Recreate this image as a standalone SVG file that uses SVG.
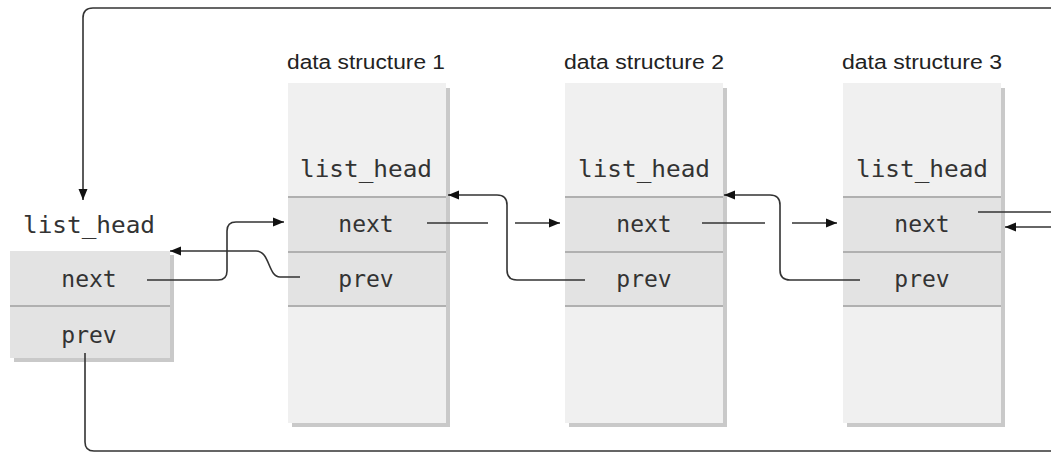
<svg xmlns="http://www.w3.org/2000/svg" width="1051" height="453" viewBox="0 0 1051 453">
<style>
.lbl{font-family:"Liberation Sans",Arial,sans-serif;font-size:20px;fill:#222;text-anchor:middle}
.mono{font-family:"DejaVu Sans Mono","Liberation Mono",monospace;font-size:23px;fill:#333;text-anchor:middle}
.bg{fill:#f0f0f0}
.row{fill:#e3e3e3}
.sh{fill:#c9c9c9}
.div{stroke:#b0b0b0;stroke-width:2}
.ln{fill:none;stroke:#333;stroke-width:1.6}
</style>
<defs>
<marker id="ah" markerUnits="userSpaceOnUse" markerWidth="12" markerHeight="10" refX="11" refY="5" orient="auto">
<path d="M0,0.5 L11,5 L0,9.5 z" fill="#111"/>
</marker>
</defs>
<g id="head">
<rect class="sh" x="14" y="255" width="160" height="107"/>
<rect class="row" x="10" y="251" width="160" height="107"/>
<line class="div" x1="10" y1="306" x2="170" y2="306"/>
<text class="mono" x="89" y="233" textLength="132" lengthAdjust="spacingAndGlyphs">list_head</text>
<text class="mono" x="89" y="287">next</text>
<text class="mono" x="89" y="343">prev</text>
</g>
<g id="ds1">
<text class="lbl" x="366" y="69" textLength="158" lengthAdjust="spacingAndGlyphs">data structure 1</text>
<rect class="sh" x="292" y="88" width="158" height="339"/>
<rect class="bg" x="288" y="83" width="158" height="340"/>
<rect class="row" x="288" y="197" width="158" height="109"/>
<line class="div" x1="288" y1="197" x2="446" y2="197"/>
<line class="div" x1="288" y1="252" x2="446" y2="252"/>
<line class="div" x1="288" y1="306" x2="446" y2="306"/>
<text class="mono" x="366" y="177" textLength="132" lengthAdjust="spacingAndGlyphs">list_head</text>
<text class="mono" x="366" y="232">next</text>
<text class="mono" x="366" y="287">prev</text>
</g>
<g id="ds2">
<text class="lbl" x="644" y="69" textLength="160" lengthAdjust="spacingAndGlyphs">data structure 2</text>
<rect class="sh" x="569" y="88" width="158" height="339"/>
<rect class="bg" x="565" y="83" width="158" height="340"/>
<rect class="row" x="565" y="197" width="158" height="109"/>
<line class="div" x1="565" y1="197" x2="723" y2="197"/>
<line class="div" x1="565" y1="252" x2="723" y2="252"/>
<line class="div" x1="565" y1="306" x2="723" y2="306"/>
<text class="mono" x="644" y="177" textLength="132" lengthAdjust="spacingAndGlyphs">list_head</text>
<text class="mono" x="644" y="232">next</text>
<text class="mono" x="644" y="287">prev</text>
</g>
<g id="ds3">
<text class="lbl" x="922" y="69" textLength="160" lengthAdjust="spacingAndGlyphs">data structure 3</text>
<rect class="sh" x="847" y="88" width="158" height="339"/>
<rect class="bg" x="843" y="83" width="158" height="340"/>
<rect class="row" x="843" y="197" width="158" height="109"/>
<line class="div" x1="843" y1="197" x2="1001" y2="197"/>
<line class="div" x1="843" y1="252" x2="1001" y2="252"/>
<line class="div" x1="843" y1="306" x2="1001" y2="306"/>
<text class="mono" x="922" y="177" textLength="132" lengthAdjust="spacingAndGlyphs">list_head</text>
<text class="mono" x="922" y="232">next</text>
<text class="mono" x="922" y="287">prev</text>
</g>
<g id="connectors">
<path class="ln" d="M1051,8 H93 Q83,8 83,18 V200" marker-end="url(#ah)"/>
<path class="ln" d="M85,353 V442 Q85,451 94,451 H1051"/>
<path class="ln" d="M147,280 H218 Q227,280 227,271 V231 Q227,222 236,222 H284" marker-end="url(#ah)"/>
<path class="ln" d="M300,277 H280 C268,277 270,251 256,251 H170" marker-end="url(#ah)"/>
<path class="ln" d="M427,223 H488"/>
<path class="ln" d="M515,223 H560" marker-end="url(#ah)"/>
<path class="ln" d="M585,280 H517 Q507,280 507,270 V205 Q507,195 497,195 H448" marker-end="url(#ah)"/>
<path class="ln" d="M702,223 H765"/>
<path class="ln" d="M792,223 H837" marker-end="url(#ah)"/>
<path class="ln" d="M860,280 H790 Q780,280 780,270 V205 Q780,195 770,195 H724" marker-end="url(#ah)"/>
<path class="ln" d="M978,212 H1051"/>
<path class="ln" d="M1051,227 H1005" marker-end="url(#ah)"/>
</g>
</svg>
